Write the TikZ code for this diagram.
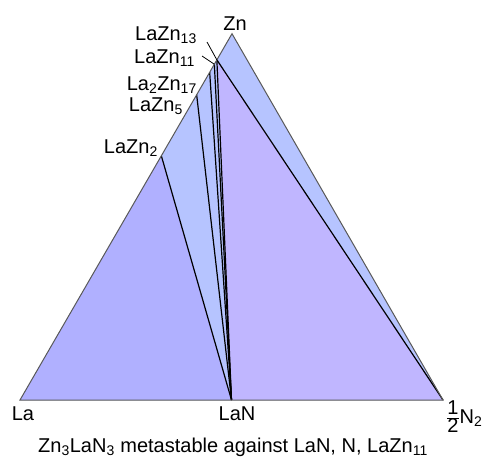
\documentclass[tikz,border=0pt]{standalone}
\usepackage{fontspec}
\setmainfont{Liberation Sans}
\usepackage{xcolor}
\usetikzlibrary{calc, positioning}

\definecolor{laside}{RGB}{176,176,255}
\definecolor{znside}{RGB}{182,196,255}
\definecolor{nside}{RGB}{192,182,255}

\begin{document}
\begin{tikzpicture}[x=1pt, y=-1pt,
    lbl/.style={font=\fontsize{20}{22}\selectfont, inner sep=0pt},
    tie/.style={line width=1.2pt, black},
    lead/.style={line width=0.8pt, black},
    rim/.style={line width=1pt, draw=black!65}
  ]
  \useasboundingbox (0,0) rectangle (486,459);
  % corners of the triangle
  \coordinate (la) at (20,400);
  \coordinate (n2) at (443,400);
  \coordinate (zn) at (232,33.7);
  \coordinate (lan) at ($(la)!0.5!(n2)$);
  % stable La-Zn phases on the left edge
  \coordinate (p2)  at ($(la)!0.6667!(zn)$);
  \coordinate (p5)  at ($(la)!0.8333!(zn)$);
  \coordinate (p17) at ($(la)!0.8947!(zn)$);
  \coordinate (p11) at ($(la)!0.9167!(zn)$);
  \coordinate (p13) at ($(la)!0.9286!(zn)$);

  \fill[znside] (la) -- (n2) -- (zn) -- cycle;
  \fill[laside] (la) -- (lan) -- (p2) -- cycle;
  \fill[nside] (lan) -- (n2) -- (p13) -- cycle;

  \draw[tie] (lan) -- (p2);
  \draw[tie] (lan) -- (p5);
  \draw[tie] (lan) -- (p17);
  \draw[tie] (lan) -- (p11);
  \draw[tie] (lan) -- (p13);
  \draw[tie] (p13) -- (n2);
  \draw[rim] (la) -- (n2) -- (zn) -- cycle;

  % labels
  \node[lbl, anchor=base] (tzn) at (235,30) {Zn};
  \node[lbl, anchor=base] (tla) at (23,420) {La};
  \node[lbl, anchor=base] (tlan) at (237,420) {LaN};
  \node[lbl, anchor=base west] (tn2) at (446,423) {$\frac{\mbox{1}}{\mbox{2}}$N\textsubscript{2}};
  \node[lbl, anchor=base east] (t13) at (197,40) {LaZn\textsubscript{13}};
  \node[lbl, anchor=base east] (t11) at (195,63) {LaZn\textsubscript{11}};
  \node[lbl, anchor=base east] (t17) at (197,90) {La\textsubscript{2}Zn\textsubscript{17}};
  \node[lbl, anchor=base east] (t5) at (183,111) {LaZn\textsubscript{5}};
  \node[lbl, anchor=base east] (t2) at (158,153) {LaZn\textsubscript{2}};
  \coordinate (l13) at (207,42);
  \coordinate (l11) at (202,56);
  \draw[lead] (l13) -- (p13);
  \draw[lead] (l11) -- (p11);

  \node[lbl, anchor=base] (cap) at (233,452)
    {Zn\textsubscript{3}LaN\textsubscript{3} metastable against LaN, N, LaZn\textsubscript{11}};
\end{tikzpicture}
\end{document}
